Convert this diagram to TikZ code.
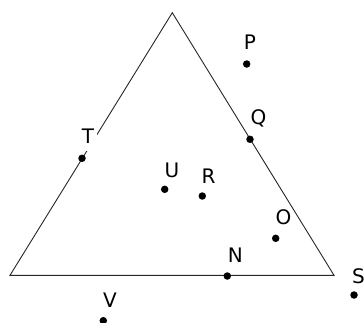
\documentclass[tikz,border=0pt]{standalone}
\usepackage{fontspec}
\setmainfont{DejaVu Sans}
\begin{document}
\begin{tikzpicture}[x=1pt,y=-1pt,
  dot/.style={circle,fill=black,inner sep=0pt,minimum size=7.5pt},
  lbl/.style={fill=white,inner sep=2pt,font=\fontsize{20}{20}\selectfont},
  edge/.style={line width=0.9pt,draw=black!85}]
\useasboundingbox (0,0) rectangle (364,322);
\coordinate (A) at (172.3,12.7);
\coordinate (B) at (10,275.3);
\coordinate (C) at (334,275.3);
\draw[edge] (A) -- (B) -- (C) -- cycle;
\node[dot] (p) at (246.7,64) {};
\node[dot] (q) at (250,139.3) {};
\node[dot] (t) at (82,158.3) {};
\node[dot] (u) at (164.7,189.3) {};
\node[dot] (r) at (202.3,196) {};
\node[dot] (o) at (275.7,238.3) {};
\node[dot] (n) at (227.3,276) {};
\node[dot] (s) at (354,295) {};
\node[dot] (v) at (103.3,320.7) {};
\node[lbl] (lp) at (250,42) {P};
\node[lbl] (lq) at (258.5,118.5) {Q};
\node[lbl,inner sep=3pt,text depth=5pt] (lt) at (88,138.5) {T};
\node[lbl] (lu) at (172,170) {U};
\node[lbl] (lr) at (208.5,176) {R};
\node[lbl,inner sep=1pt] (lo) at (283.5,216.8) {O};
\node[lbl] (ln) at (235.3,255) {N};
\node[lbl] (ls) at (358.5,276) {S};
\node[lbl] (lv) at (110,300) {V};
\end{tikzpicture}
\end{document}
